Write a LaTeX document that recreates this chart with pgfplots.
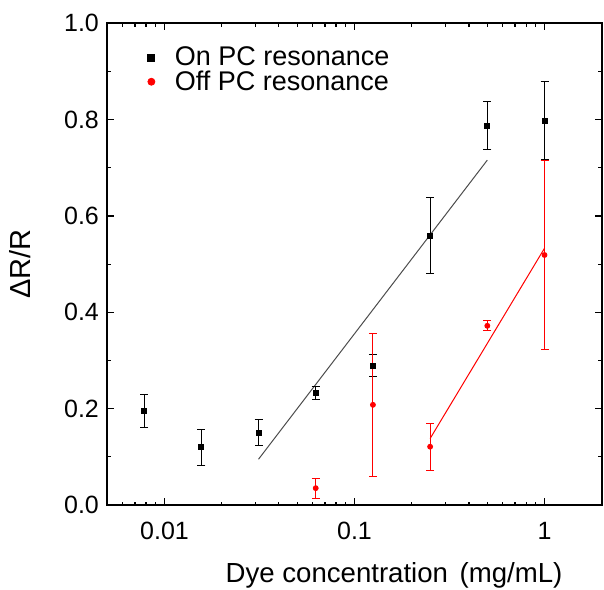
\documentclass[border=0pt]{standalone}
\usepackage{pgfplots}
\pgfplotsset{compat=1.18}
\usepackage{pgfplotstable}
\usepackage{fontspec}
\setmainfont{Liberation Sans}
\pgfplotstableread{
x y e
0.0078125 0.195 0.034
0.015625 0.120 0.037
0.03125 0.150 0.027
0.0625 0.233 0.0135
0.125 0.289 0.023
0.25 0.559 0.079
0.5 0.787 0.050
1 0.798 0.081
}\onpc
\pgfplotstableread{
x y e
0.0625 0.035 0.021
0.125 0.208 0.148
0.25 0.121 0.0485
0.5 0.372 0.0105
1 0.519 0.197
}\offpc
\pgfplotstableread{
x y
0.03125 0.095
0.5 0.716
}\onfit
\pgfplotstableread{
x y
0.25 0.138
1 0.533
}\offfit
\begin{document}
\begin{tikzpicture}
\begin{semilogxaxis}[
  scale only axis, width=247.2pt, height=240.85pt,
  xmin=0.005, xmax=2, ymin=0, ymax=1,
  xtick={0.01,0.1,1}, xticklabels={0.01,0.1,1},
  minor xtick={0.006,0.007,0.008,0.009,0.02,0.03,0.04,0.05,0.06,0.07,0.08,0.09,0.2,0.3,0.4,0.5,0.6,0.7,0.8,0.9,2},
  ytick={0,0.2,0.4,0.6,0.8,1}, yticklabels={0.0,0.2,0.4,0.6,0.8,1.0},
  minor ytick={0.1,0.3,0.5,0.7,0.9},
  /pgf/number format/assume math mode=true,
  tick align=inside, tick pos=both,
  axis line style={line width=0.9pt},
  every tick/.style={line width=0.6pt, black},
  major tick length=3.3pt, minor tick length=1.7pt,
  tick label style={font=\fontsize{12.5}{15}\selectfont},
  xticklabel style={inner sep=0pt, yshift=-8.5pt},
  yticklabel style={inner sep=0pt, xshift=-4pt},
  xlabel={Dye concentration\hspace{0.42em}(mg/mL)},
  xlabel style={at={(axis description cs:0.58,-0.161)}, anchor=base, font=\fontsize{13.8}{17}\selectfont},
  ylabel={ΔR/R},
  ylabel style={at={(axis description cs:-0.141,0.5)}, anchor=south, font=\fontsize{14.5}{17}\selectfont},
  legend style={at={(axis description cs:0.0813,0.952)}, anchor=north west, draw=none, fill=none, inner sep=0pt, row sep=0.9pt, column sep=10pt, font=\fontsize{13.5}{16}\selectfont, nodes={inner sep=0pt}},
  legend cell align=left,
  legend image code/.code={\draw[#1, mark size=1.75pt] plot coordinates {(0pt,0pt)};},
]
\addplot[forget plot, color=black!70, line width=0.5pt] table[x=x,y=y] {\onfit};
\addplot[forget plot, color=red, line width=0.5pt] table[x=x,y=y] {\offfit};
\addplot[only marks, mark=square*, mark size=1.25pt, color=black,
  error bars/.cd, y dir=both, y explicit,
  error bar style={line width=0.5pt, black},
  error mark options={rotate=90, mark size=2pt, line width=0.5pt, black}]
  table[x=x,y=y,y error=e] {\onpc};
\addlegendentry{On PC resonance}
\addplot[only marks, mark=*, mark size=1.25pt, color=red,
  error bars/.cd, y dir=both, y explicit,
  error bar style={line width=0.5pt, red},
  error mark options={rotate=90, mark size=2pt, line width=0.5pt, red}]
  table[x=x,y=y,y error=e] {\offpc};
\addlegendentry{Off PC resonance}
\end{semilogxaxis}
\pgfresetboundingbox
\useasboundingbox (-53.65pt,-42pt) rectangle (248.35pt,252.5pt);
\end{tikzpicture}
\end{document}
